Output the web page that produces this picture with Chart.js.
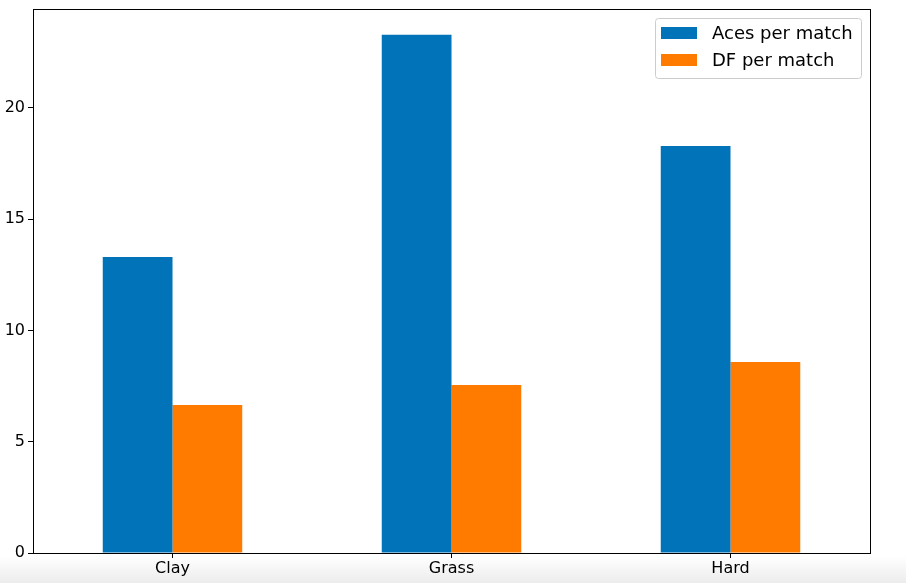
<!DOCTYPE html>
<html>
<head>
<meta charset="utf-8">
<script src="https://cdn.jsdelivr.net/npm/chart.js@4"></script>
<style>
  html, body { margin: 0; padding: 0; }
  body {
    width: 906px; height: 583px; overflow: hidden;
    background: linear-gradient(to bottom, #fff 0px, #fff 556px, #ececec 583px);
  }
  #wrap { position: relative; width: 906px; height: 583px; }
</style>
</head>
<body>
<div id="wrap"><canvas id="myChart"></canvas></div>
<script>
const surfaces = ['Clay', 'Grass', 'Hard'];
const acesPerMatch = [13.3, 23.28, 18.29];
const dfPerMatch = [6.65, 7.55, 8.58];
const yTicks = [0, 5, 10, 15, 20];
const yMax = 24.44;

const FONT = '"DejaVu Sans", sans-serif';

// spines around the plot + legend box in the top right corner
const frameAndLegend = {
  id: 'frameAndLegend',
  afterDraw(chart) {
    const { ctx, chartArea: a } = chart;
    ctx.save();
    ctx.strokeStyle = '#000';
    ctx.lineWidth = 1;
    ctx.strokeRect(Math.round(a.left) + 0.5, Math.round(a.top) + 0.5,
      Math.round(a.right - a.left), Math.round(a.bottom - a.top));

    ctx.font = '18px ' + FONT;
    const items = chart.data.datasets;
    const textW = Math.max(...items.map(d => ctx.measureText(d.label).width));
    const w = 6 + 36 + 15 + textW + 8;
    const h = 60;
    const right = Math.round(a.right) - 9;
    const top = Math.round(a.top) + 9;
    const left = Math.round(right - w);
    ctx.fillStyle = 'rgba(255,255,255,0.8)';
    ctx.strokeStyle = '#cccccc';
    ctx.beginPath();
    if (ctx.roundRect) ctx.roundRect(left + 0.5, top + 0.5, right - left, h, 3);
    else ctx.rect(left + 0.5, top + 0.5, right - left, h);
    ctx.fill();
    ctx.stroke();
    items.forEach((d, i) => {
      const cy = top + 15 + i * 27;
      ctx.fillStyle = d.backgroundColor;
      ctx.fillRect(left + 6, cy - 6, 36, 12);
      ctx.fillStyle = '#000';
      ctx.textBaseline = 'middle';
      ctx.fillText(d.label, left + 57, cy + 1);
    });
    ctx.restore();
  }
};

const ctx = document.getElementById('myChart').getContext('2d');
new Chart(ctx, {
  type: 'bar',
  data: {
    labels: surfaces,
    datasets: [
      { label: 'Aces per match', data: acesPerMatch, backgroundColor: '#0173b9' },
      { label: 'DF per match', data: dfPerMatch, backgroundColor: '#ff7b00' }
    ]
  },
  options: {
    responsive: true,
    maintainAspectRatio: false,
    animation: false,
    layout: { padding: { left: 0, top: 9, right: 36, bottom: 0 } },
    datasets: { bar: { categoryPercentage: 0.5, barPercentage: 1.0 } },
    plugins: { legend: { display: false }, tooltip: { enabled: false } },
    scales: {
      x: {
        offset: true,
        grid: { display: true, offset: false, drawOnChartArea: false, tickLength: 5, tickColor: '#000', color: '#000' },
        border: { display: false },
        ticks: { color: '#000', font: { family: FONT, size: 16 }, padding: 1, maxRotation: 0 },
        afterFit: s => { s.height = 30; s.paddingLeft = 0; s.paddingRight = 0; }
      },
      y: {
        min: 0,
        max: yMax,
        afterBuildTicks: s => { s.ticks = yTicks.map(v => ({ value: v })); },
        grid: { display: true, drawOnChartArea: false, tickLength: 5, tickColor: '#000', color: '#000' },
        border: { display: false },
        ticks: { color: '#000', font: { family: FONT, size: 16 }, padding: 3 },
        afterFit: s => { s.width = 33; s.paddingTop = 0; s.paddingBottom = 0; }
      }
    }
  },
  plugins: [frameAndLegend]
});
</script>
</body>
</html>
